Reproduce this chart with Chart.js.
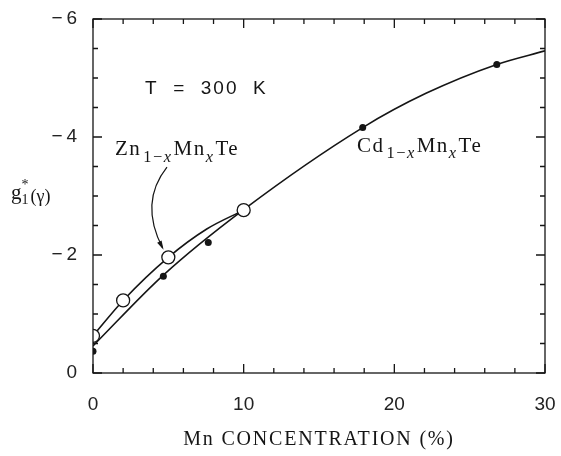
<!DOCTYPE html>
<html>
<head>
<meta charset="utf-8">
<script src="https://cdn.jsdelivr.net/npm/chart.js@4/dist/chart.umd.min.js"></script>
<style>
  body { margin: 0; background: #fff; }
  canvas { display: block; }
</style>
</head>
<body>
<canvas id="chart" width="561" height="456"></canvas>
<script>
// measured points, Zn(1-x)Mn(x)Te (open circles)
var znX = [0, 2, 5, 10];
var znY = [-0.63, -1.23, -1.96, -2.76];
// measured points, Cd(1-x)Mn(x)Te (filled dots)
var cdX = [0, 4.67, 7.65, 17.9, 26.8];
var cdY = [-0.37, -1.64, -2.21, -4.16, -5.23];
// fitted curves
var znCurveX = [0, 2, 5, 7.55, 10];
var znCurveY = [-0.63, -1.23, -1.96, -2.44, -2.76];
var cdCurveX = [0, 4.67, 10, 17.9, 22.1, 26.8, 30];
var cdCurveY = [-0.46, -1.66, -2.77, -4.16, -4.74, -5.23, -5.46];
// axis ticks
var xTickValues = [0, 10, 20, 30];
var yTickValues = [0, -2, -4, -6];

function pts(xs, ys) {
    return xs.map(function(x, i) { return { x: x, y: ys[i] }; });
}

var INK = '#151515';
var SERIF = '"Liberation Serif", "DejaVu Serif", serif';
var SANS = '"Liberation Sans", "DejaVu Sans", sans-serif';

// draw a run of text pieces, some as subscripts
function richText(ctx, x, y, parts, size) {
    var cx = x;
    parts.forEach(function(p) {
        var fs = p.sub ? size * 0.78 : size;
        ctx.font = (p.it ? 'italic ' : '') + fs + 'px ' + SERIF;
        var dy = p.sub ? size * 0.3 : 0;
        ctx.fillText(p.t, cx, y + dy);
        cx += ctx.measureText(p.t).width + (p.gap || 0);
    });
}

var framePlugin = {
    id: 'frame',
    afterDraw: function(chart) {
        var ctx = chart.ctx;
        var a = chart.chartArea;
        var xs = chart.scales.x, ys = chart.scales.y;
        ctx.save();
        ctx.strokeStyle = INK;
        ctx.fillStyle = INK;
        ctx.lineWidth = 1.3;

        // frame
        ctx.strokeRect(a.left, a.top, a.right - a.left, a.bottom - a.top);

        // inward ticks on all four sides
        ctx.beginPath();
        for (var v = 0; v <= 30; v += 2) {
            var px = xs.getPixelForValue(v);
            var len = (v % 10 === 0) ? 9 : 5;
            ctx.moveTo(px, a.bottom); ctx.lineTo(px, a.bottom - len);
            ctx.moveTo(px, a.top); ctx.lineTo(px, a.top + len);
        }
        for (var w = 0; w >= -6; w -= 0.5) {
            var py = ys.getPixelForValue(w);
            var l2 = (Math.abs(w) % 2 === 0) ? 9 : 5;
            ctx.moveTo(a.left, py); ctx.lineTo(a.left + l2, py);
            ctx.moveTo(a.right, py); ctx.lineTo(a.right - l2, py);
        }
        ctx.stroke();

        // T = 300 K
        ctx.textBaseline = 'alphabetic';
        ctx.textAlign = 'left';
        ctx.font = '19px ' + SANS;
        ctx.letterSpacing = '2px';
        ctx.fillText('T  =  300  K', xs.getPixelForValue(3.45), ys.getPixelForValue(-4.73));
        ctx.letterSpacing = '0px';

        // compound labels
        ctx.letterSpacing = '1.5px';
        richText(ctx, xs.getPixelForValue(1.46), ys.getPixelForValue(-3.69), [
            { t: 'Zn', gap: 2 }, { t: '1\u2212', sub: true }, { t: 'x', sub: true, it: true, gap: 1 },
            { t: 'Mn' }, { t: 'x', sub: true, it: true, gap: 1 }, { t: 'Te' }
        ], 21);
        richText(ctx, xs.getPixelForValue(17.52), ys.getPixelForValue(-3.75), [
            { t: 'Cd', gap: 2 }, { t: '1\u2212', sub: true }, { t: 'x', sub: true, it: true, gap: 1 },
            { t: 'Mn' }, { t: 'x', sub: true, it: true, gap: 1 }, { t: 'Te' }
        ], 21);
        ctx.letterSpacing = '0px';

        // y axis label g1*(gamma)
        var gy = ys.getPixelForValue(-2.95);
        ctx.font = '21px ' + SERIF;
        ctx.fillText('g', 11, gy);
        var gw = ctx.measureText('g').width;
        ctx.font = '14px ' + SERIF;
        ctx.fillText('1', 11 + gw, gy + 5);
        ctx.fillText('*', 11 + gw, gy - 10);
        ctx.font = '18px ' + SERIF;
        ctx.fillText('(\u03b3)', 11 + gw + 9, gy + 3);

        // x axis title
        ctx.font = '20px ' + SERIF;
        ctx.letterSpacing = '1.8px';
        ctx.textAlign = 'center';
        ctx.fillText('Mn CONCENTRATION (%)', (a.left + a.right) / 2, 445);
        ctx.letterSpacing = '0px';

        // arrow from Zn label to the x=5 circle
        var p0x = xs.getPixelForValue(4.91), p0y = ys.getPixelForValue(-3.49);
        var cx = xs.getPixelForValue(3.05), cy = ys.getPixelForValue(-2.89);
        var p1x = xs.getPixelForValue(4.62), p1y = ys.getPixelForValue(-2.12);
        ctx.lineWidth = 1.2;
        ctx.beginPath();
        ctx.moveTo(p0x, p0y);
        ctx.quadraticCurveTo(cx, cy, p1x, p1y);
        ctx.stroke();
        var ang = Math.atan2(p1y - cy, p1x - cx);
        ctx.beginPath();
        ctx.moveTo(p1x + 2 * Math.cos(ang), p1y + 2 * Math.sin(ang));
        ctx.lineTo(p1x - 7 * Math.cos(ang) + 2.5 * Math.sin(ang), p1y - 7 * Math.sin(ang) - 2.5 * Math.cos(ang));
        ctx.lineTo(p1x - 7 * Math.cos(ang) - 2.5 * Math.sin(ang), p1y - 7 * Math.sin(ang) + 2.5 * Math.cos(ang));
        ctx.closePath();
        ctx.fill();

        ctx.restore();
    }
};

new Chart(document.getElementById('chart'), {
    type: 'scatter',
    data: {
        datasets: [
            {
                label: 'Zn points',
                data: pts(znX, znY),
                pointRadius: 6.5,
                pointBackgroundColor: '#fff',
                pointBorderColor: INK,
                pointBorderWidth: 1.3,
                showLine: false
            },
            {
                label: 'Cd points',
                data: pts(cdX, cdY),
                pointRadius: 3.5,
                pointBackgroundColor: INK,
                pointBorderColor: INK,
                pointBorderWidth: 0,
                showLine: false
            },
            {
                label: 'Zn curve',
                data: pts(znCurveX, znCurveY),
                showLine: true,
                pointRadius: 0,
                borderColor: INK,
                borderWidth: 1.6,
                cubicInterpolationMode: 'monotone',
                fill: false
            },
            {
                label: 'Cd curve',
                data: pts(cdCurveX, cdCurveY),
                showLine: true,
                pointRadius: 0,
                borderColor: INK,
                borderWidth: 1.6,
                cubicInterpolationMode: 'monotone',
                fill: false
            }
        ]
    },
    options: {
        responsive: false,
        animation: false,
        layout: { padding: { left: 0, right: 16, top: 19, bottom: 0 } },
        plugins: {
            legend: { display: false },
            tooltip: { enabled: false }
        },
        scales: {
            x: {
                type: 'linear',
                min: 0,
                max: 30,
                grid: { display: false },
                border: { display: false },
                afterBuildTicks: function(s) {
                    s.ticks = xTickValues.map(function(v) { return { value: v }; });
                },
                afterFit: function(s) {
                    s.height = 83;
                    s.paddingLeft = 0;
                    s.paddingRight = 0;
                },
                ticks: {
                    padding: 12,
                    maxRotation: 0,
                    color: '#222',
                    font: { family: SANS, size: 19 }
                }
            },
            y: {
                type: 'linear',
                min: -6,
                max: 0,
                reverse: true,
                grid: { display: false },
                border: { display: false },
                afterBuildTicks: function(s) {
                    s.ticks = yTickValues.map(function(v) { return { value: v }; });
                },
                afterFit: function(s) {
                    s.width = 93;
                    s.paddingTop = 0;
                    s.paddingBottom = 0;
                },
                ticks: {
                    padding: 8,
                    color: '#222',
                    font: { family: SANS, size: 19 },
                    callback: function(v) {
                        return v === 0 ? '0' : '\u2212\u2009' + Math.abs(v);
                    }
                }
            }
        }
    },
    plugins: [framePlugin]
});
</script>
</body>
</html>
